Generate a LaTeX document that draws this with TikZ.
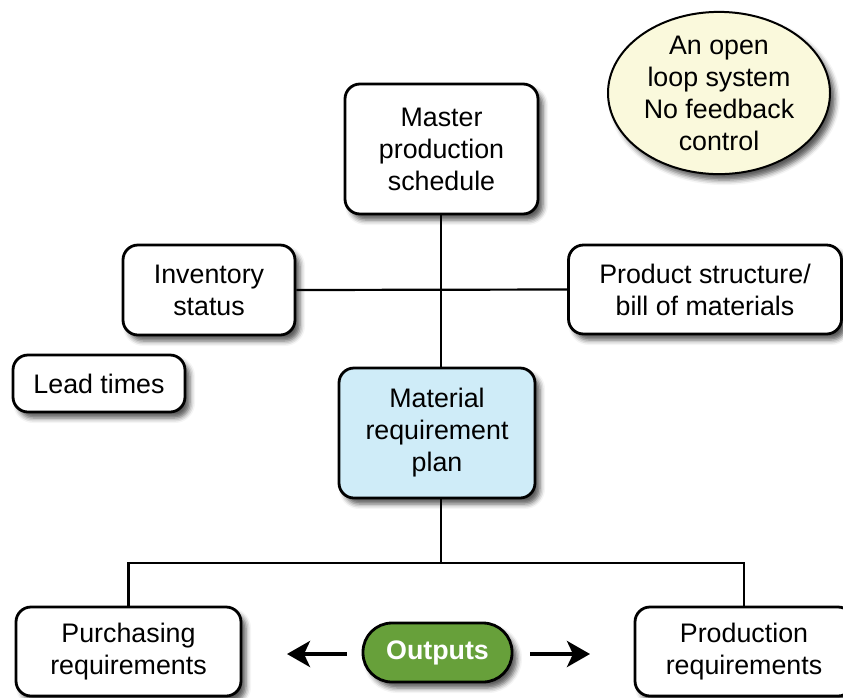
\documentclass[tikz,border=0pt]{standalone}
\usepackage{fontspec}
\setmainfont{Liberation Sans}
\usetikzlibrary{shapes.geometric,shadows.blur,arrows.meta}
\definecolor{mrpblue}{RGB}{207,236,248}
\definecolor{notecream}{RGB}{250,249,220}
\definecolor{outgreen}{RGB}{103,160,58}

\begin{document}
\begin{tikzpicture}[x=1pt, y=-1pt,
        shade/.style={blur shadow={shadow xshift=5pt, shadow yshift=-6pt,
            shadow blur radius=5pt, shadow opacity=65}},
        box/.style={draw, line width=2.8pt, rounded corners=15pt, fill=white,
            align=center, inner sep=0pt, shade,
            font=\fontsize{26.8}{32}\selectfont},
        wire/.style={line width=2.2pt},
        outarrow/.style={line width=4pt,
            -{Stealth[length=23pt, width=26pt, inset=6pt]}}]
    \useasboundingbox (0,0) rectangle (843,697);

    \node[box, minimum width=193pt, minimum height=130pt] (master) at (441.5,149)
        {Master\\production\\schedule};
    \node[box, minimum width=172pt, minimum height=90pt] (inventory) at (209,290)
        {Inventory\\status};
    \node[box, minimum width=273pt, minimum height=89pt] (product) at (705,289.5)
        {Product structure/\\bill of materials};
    \node[box, minimum width=172pt, minimum height=57pt] (lead) at (99,383.5)
        {Lead times};
    \node[box, fill=mrpblue, minimum width=196pt, minimum height=130pt] (mrp) at (437,433)
        {Material\\requirement\\plan};
    \node[box, minimum width=225pt, minimum height=89pt] (purchasing) at (128.5,651.5)
        {Purchasing\\requirements};
    \node[box, minimum width=218pt, minimum height=89pt] (production) at (744,651.5)
        {Production\\requirements};
    \node[box, fill=outgreen, text=white, rounded corners=29pt,
        minimum width=149pt, minimum height=59pt,
        font=\fontsize{26.8}{32}\selectfont\bfseries] (outputs) at (437.5,652.5)
        {Outputs};
    \node[box, ellipse, fill=notecream, line width=2pt,
        minimum width=222pt, minimum height=156pt] (note) at (719,93)
        {An open\\loop system\\No feedback\\control};

    % connectors
    \coordinate (split) at (441,563);
    \draw[wire] (master.south -| split) -- (mrp.north -| split);
    \draw[wire] (inventory.east) -- (product.west);
    \draw[wire] (mrp.south -| split) -- (split);
    \draw[wire] (purchasing.north) |- (split) -| (production.north);

    % output arrows
    \coordinate (lefttip) at (287,654);
    \coordinate (righttip) at (590,654);
    \draw[outarrow] ([xshift=-15pt]outputs.west |- lefttip) -- (lefttip);
    \draw[outarrow] ([xshift=17pt]outputs.east |- righttip) -- (righttip);
\end{tikzpicture}
\end{document}
